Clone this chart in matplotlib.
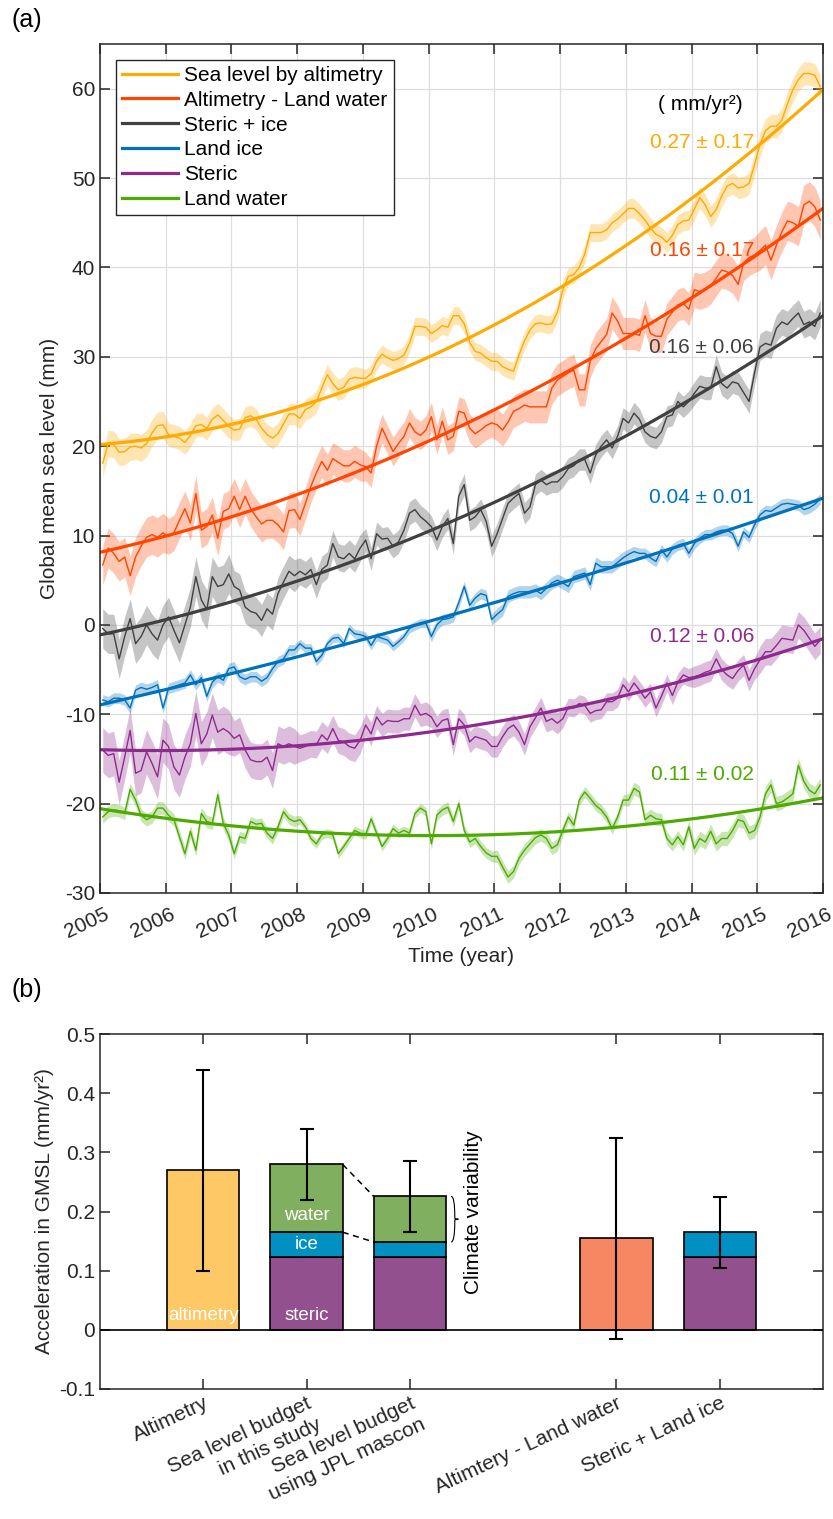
import numpy as np
import matplotlib
matplotlib.use('Agg')
import matplotlib.pyplot as plt
from matplotlib.path import Path
from matplotlib.patches import PathPatch
from matplotlib.transforms import ScaledTranslation

plt.rcParams['font.family'] = ['Liberation Sans', 'DejaVu Sans']
plt.rcParams['font.size'] = 15
plt.rcParams['axes.unicode_minus'] = False

# ---- panel (a): monthly GMSL components, mm (Jan 2005 .. Dec 2015) ----
years = 2005 + (np.arange(132) + 0.5) / 12

altimetry = [
    18.1, 20.3, 20.2, 19.3, 19.4, 19.9, 20.0, 19.8, 20.3, 21.5, 22.3, 22.4,
    21.3, 21.1, 20.9, 20.4, 21.2, 22.3, 22.4, 22.0, 23.0, 23.5, 22.9, 22.2,
    21.8, 21.9, 23.2, 23.4, 23.0, 22.0, 21.3, 20.9, 21.4, 22.5, 23.6, 23.6,
    23.1, 24.1, 24.4, 25.0, 26.5, 28.0, 27.0, 26.3, 26.6, 27.5, 27.7, 27.6,
    27.6, 28.1, 29.5, 30.3, 29.9, 29.6, 29.8, 30.2, 31.5, 33.4, 33.4, 33.3,
    32.6, 33.0, 33.5, 33.3, 34.6, 34.6, 33.7, 31.6, 30.6, 30.4, 29.9, 29.5,
    29.5, 28.9, 28.6, 28.4, 30.2, 31.8, 33.0, 33.7, 33.8, 33.6, 33.7, 35.0,
    37.5, 39.0, 39.2, 40.0, 41.5, 43.9, 43.9, 43.9, 44.2, 45.0, 45.4, 46.0,
    46.6, 46.6, 46.0, 45.3, 44.4, 43.7, 43.4, 42.8, 43.6, 44.8, 45.2, 45.3,
    46.5, 47.8, 47.0, 45.7, 46.5, 48.0, 49.1, 49.4, 48.9, 49.0, 49.4, 51.5,
    53.8, 55.3, 55.8, 55.8, 56.5, 58.3, 59.9, 61.0, 61.7, 61.7, 61.5, 60.2]

alt_minus_lw = [
    6.7, 8.6, 8.0, 7.1, 7.6, 5.5, 7.6, 8.8, 9.8, 10.1, 9.8, 10.3,
    9.9, 10.3, 11.7, 13.0, 11.4, 14.7, 10.6, 11.0, 12.3, 9.7, 12.7, 13.0,
    14.4, 12.9, 14.4, 13.0, 12.1, 11.3, 11.7, 11.7, 11.2, 10.4, 12.8, 12.9,
    11.8, 13.6, 15.5, 17.0, 18.3, 17.3, 18.6, 18.2, 17.8, 17.8, 18.3, 17.9,
    17.7, 17.0, 20.0, 22.0, 20.7, 19.4, 20.3, 21.1, 22.6, 21.6, 21.2, 21.8,
    23.3, 20.7, 22.8, 20.7, 21.1, 23.9, 23.7, 22.0, 21.4, 21.8, 22.3, 22.6,
    22.4, 21.8, 22.7, 23.9, 24.2, 24.6, 24.4, 24.4, 24.4, 24.4, 26.5, 27.4,
    27.8, 28.2, 28.5, 26.3, 26.3, 29.5, 30.9, 31.7, 32.5, 34.9, 34.0, 32.6,
    32.6, 32.6, 32.4, 34.6, 32.6, 32.3, 32.3, 34.2, 35.0, 35.8, 36.0, 35.3,
    37.5, 37.3, 37.5, 37.9, 38.8, 39.7, 39.5, 39.1, 38.1, 40.5, 41.1, 41.4,
    41.9, 42.5, 40.8, 42.5, 44.0, 45.2, 45.0, 44.6, 47.0, 47.4, 46.8, 45.3]

steric_ice = [
    -0.4, -1.0, -1.0, -3.8, -1.3, 0.7, -2.1, -1.3, 0.0, -1.0, -1.7, 0.0,
    0.9, -0.6, -2.0, 0.0, 2.0, 5.4, 2.8, 1.7, 5.4, 4.3, 4.5, 5.7,
    4.3, 3.9, 2.0, 1.5, 1.3, 0.5, 1.8, 1.2, 3.5, 4.8, 6.0, 5.5,
    6.0, 5.6, 6.2, 4.5, 6.2, 6.7, 9.1, 7.6, 7.4, 8.0, 7.4, 8.6,
    9.5, 7.4, 10.2, 9.6, 9.7, 8.8, 9.3, 10.6, 12.5, 12.9, 12.1, 11.6,
    11.0, 9.5, 11.0, 11.9, 9.1, 14.4, 15.7, 11.7, 12.1, 12.9, 11.6, 8.8,
    10.2, 11.9, 13.6, 14.2, 14.7, 12.5, 13.2, 15.7, 16.2, 15.7, 16.0, 16.0,
    16.6, 17.5, 17.8, 18.5, 18.5, 17.0, 19.0, 20.0, 20.7, 19.8, 21.1, 23.1,
    22.6, 23.7, 23.0, 21.6, 21.1, 20.9, 21.6, 23.3, 23.5, 25.0, 24.4, 25.0,
    25.9, 26.7, 26.5, 26.5, 28.9, 27.0, 26.5, 27.2, 27.0, 26.0, 25.0, 28.2,
    31.1, 31.5, 31.3, 33.2, 33.9, 33.6, 34.3, 34.9, 33.6, 33.9, 33.4, 34.9]

land_ice = [
    -8.4, -8.6, -8.2, -8.2, -8.4, -9.3, -7.3, -7.0, -7.2, -7.0, -6.7, -9.3,
    -7.1, -6.9, -6.7, -6.5, -5.6, -6.7, -5.9, -8.0, -6.4, -5.8, -6.2, -4.9,
    -4.7, -5.8, -6.1, -5.8, -5.8, -6.3, -5.9, -4.9, -4.1, -3.8, -2.8, -2.8,
    -2.1, -2.6, -2.6, -4.1, -3.4, -2.1, -1.5, -1.4, -2.1, -0.4, -1.0, -1.1,
    -1.3, -2.3, -1.3, -1.5, -1.7, -2.4, -1.9, -1.3, -0.4, -0.1, 0.2, 0.2,
    -1.3, 0.0, 0.6, 0.7, 0.9, 2.5, 4.3, 2.2, 3.0, 3.5, 3.3, 0.6,
    1.2, 1.7, 3.2, 3.5, 3.7, 3.7, 3.7, 3.9, 3.5, 4.1, 4.7, 5.0,
    4.7, 4.3, 5.4, 5.6, 5.8, 4.5, 6.9, 6.5, 6.5, 6.5, 7.0, 7.5,
    7.9, 8.2, 8.0, 8.0, 7.5, 7.1, 8.4, 7.6, 8.5, 8.9, 9.1, 8.0,
    9.1, 9.7, 10.1, 10.1, 10.4, 10.6, 10.6, 10.2, 8.8, 10.4, 9.8, 11.2,
    12.3, 12.8, 12.7, 13.1, 13.5, 13.6, 13.5, 13.4, 12.9, 13.1, 13.5, 14.1]

steric = [
    -14.0, -14.6, -14.4, -17.6, -14.8, -11.8, -16.6, -16.3, -14.2, -15.5, -17.0, -12.9,
    -13.6, -15.9, -16.8, -14.8, -13.3, -9.9, -13.3, -12.2, -10.1, -12.0, -11.6, -12.0,
    -12.7, -12.3, -14.0, -15.1, -15.3, -15.3, -14.8, -16.3, -13.3, -13.6, -13.3, -13.6,
    -13.8, -13.6, -13.3, -13.4, -12.3, -12.9, -11.6, -12.9, -13.1, -13.6, -13.8, -12.9,
    -11.2, -12.2, -10.3, -11.2, -10.7, -10.8, -10.8, -10.5, -10.5, -9.0, -10.1, -9.9,
    -10.3, -11.4, -10.7, -10.5, -13.4, -10.5, -11.2, -13.1, -12.5, -12.7, -12.9, -13.6,
    -13.6, -12.5, -11.6, -11.2, -12.0, -13.4, -11.4, -10.4, -9.3, -10.8, -10.5, -11.0,
    -10.5, -9.2, -9.3, -8.8, -9.0, -9.9, -9.6, -9.5, -8.6, -8.6, -8.2, -6.7,
    -7.5, -6.5, -7.3, -8.2, -7.5, -9.3, -8.0, -6.5, -7.9, -6.4, -5.6, -5.9,
    -5.8, -5.6, -5.3, -5.1, -3.8, -5.0, -5.6, -6.0, -5.1, -4.5, -6.2, -4.9,
    -3.9, -3.0, -3.0, -2.3, -1.5, -1.6, -1.7, 0.0, -0.6, -1.5, -2.4, -1.7]

land_water = [
    -21.5, -20.9, -20.7, -20.8, -21.1, -18.4, -19.6, -21.3, -21.8, -21.5, -20.5, -20.5,
    -21.3, -21.8, -23.7, -25.6, -23.1, -25.2, -21.1, -22.0, -22.2, -19.0, -22.2, -23.5,
    -25.6, -23.7, -23.9, -22.0, -22.3, -22.2, -23.3, -23.9, -22.6, -20.9, -21.7, -22.0,
    -21.8, -22.6, -23.9, -24.5, -23.5, -23.3, -23.5, -25.6, -24.8, -23.9, -23.0, -23.3,
    -23.5, -21.7, -23.3, -24.8, -23.9, -22.8, -23.3, -23.0, -23.3, -21.1, -20.5, -20.9,
    -24.5, -21.3, -20.7, -20.4, -22.0, -20.0, -23.0, -24.3, -23.9, -24.8, -25.5, -25.9,
    -25.9, -27.1, -28.2, -27.6, -26.1, -25.2, -24.5, -23.8, -23.5, -23.9, -25.0, -24.6,
    -23.0, -21.5, -22.4, -19.6, -18.7, -19.4, -20.2, -20.7, -21.5, -22.8, -21.5, -19.6,
    -19.6, -18.3, -18.7, -21.8, -21.3, -21.7, -21.8, -23.9, -24.6, -23.7, -24.6, -22.6,
    -25.0, -23.9, -24.3, -23.1, -24.5, -23.9, -23.9, -23.0, -21.8, -22.0, -23.3, -23.0,
    -21.5, -18.9, -17.9, -20.0, -19.8, -19.4, -18.9, -15.7, -17.5, -18.5, -18.9, -17.9]

# yearly half-width of the uncertainty band (2005..2015), mm
unc_altimetry = [1.5, 1.3, 1.2, 1.2, 1.0, 1.0, 1.0, 1.0, 1.1, 1.2, 1.3]
unc_alt_minus_lw = [2.2, 2.0, 2.0, 1.8, 1.6, 1.6, 1.8, 1.8, 1.8, 2.0, 2.2]
unc_steric_ice = [2.2, 2.2, 1.8, 1.5, 1.3, 1.2, 1.2, 1.2, 1.2, 1.3, 1.5]
unc_land_ice = [0.6, 0.6, 0.6, 0.5, 0.5, 0.6, 0.7, 0.7, 0.6, 0.6, 0.6]
unc_steric = [2.5, 2.5, 2.0, 1.5, 1.3, 1.2, 1.2, 1.0, 1.0, 1.2, 1.5]
unc_land_water = [0.7, 0.7, 0.6, 0.5, 0.5, 0.6, 0.7, 0.6, 0.7, 0.8, 0.8]

series_names = ['Sea level by altimetry', 'Altimetry - Land water', 'Steric + ice',
                'Land ice', 'Steric', 'Land water']
accel_text = ['0.27 \u00b1 0.17', '0.16 \u00b1 0.17', '0.16 \u00b1 0.06',
              '0.04 \u00b1 0.01', '0.12 \u00b1 0.06', '0.11 \u00b1 0.02']

# ---- panel (b): acceleration, mm/yr^2 ----
bar_labels = ['Altimetry', 'Sea level budget\nin this study', 'Sea level budget\nusing JPL mascon',
              'Altimtery - Land water', 'Steric + Land ice']
acc_altimetry = 0.27
acc_alt_minus_lw = 0.155
acc_steric = [0.123, 0.123, 0.123]      # budget, JPL budget, steric + land ice
acc_ice = [0.042, 0.0255, 0.042]
acc_water = [0.1145, 0.077]              # budget, JPL budget
acc_err = [0.17, 0.06, 0.06, 0.17, 0.06]

# ---------------------------------------------------------------
fig = plt.figure(figsize=(8.33, 15.19), dpi=100)
dark = '#262626'

ax = fig.add_axes([100 / 833, 1 - 893 / 1519, 723 / 833, 849 / 1519])
colors = ['#FFAA00', '#FF4500', '#404040', '#0072BD', '#8E2A8E', '#4DAA00']
data = [altimetry, alt_minus_lw, steric_ice, land_ice, steric, land_water]
uncs = [unc_altimetry, unc_alt_minus_lw, unc_steric_ice, unc_land_ice, unc_steric, unc_land_water]
label_y = [54.0, 41.9, 31.0, 14.3, -1.25, -16.7]

tt = np.linspace(2005, 2016, 200)
handles = []
for vals, unc, col, name, txt, ly in zip(data, uncs, colors, series_names, accel_text, label_y):
    v = np.array(vals)
    e = np.repeat(unc, 12)
    ax.fill_between(years, v - e, v + e, color=col, alpha=0.3, lw=0)
    ax.plot(years, v, color=col, lw=1.0)
    c = np.polyfit(years - 2010.5, v, 2)
    h, = ax.plot(tt, np.polyval(c, tt - 2010.5), color=col, lw=2.3, label=name)
    handles.append(h)
    ax.text(2014.95, ly, txt, color=col, ha='right', va='center', fontsize=15)

ax.text(2014.13, 58.2, '( mm/yr\u00b2)', color='k', ha='center', va='center', fontsize=15)

ax.set_xlim(2005, 2016)
ax.set_ylim(-30, 65)
ax.set_xticks(range(2005, 2017))
ax.set_yticks(range(-30, 61, 10))
ax.grid(True, color='#DEDEDE', lw=0.9)
ax.set_axisbelow(True)
ax.tick_params(direction='in', length=7, width=1.1, top=True, right=True, colors=dark,
               labelsize=15)
for s in ax.spines.values():
    s.set_color(dark)
    s.set_linewidth(1.1)
for lab in ax.get_xticklabels():
    lab.set_rotation(25)
    lab.set_ha('right')
    lab.set_rotation_mode('anchor')
    lab.set_transform(lab.get_transform() + ScaledTranslation(3 / 72, -5 / 72, fig.dpi_scale_trans))
ax.set_xlabel('Time (year)', color=dark, fontsize=15, labelpad=4)
ax.set_ylabel('Global mean sea level (mm)', color=dark, fontsize=15, labelpad=4)
leg = ax.legend(handles=handles, loc='upper left', fontsize=15, fancybox=False,
                framealpha=1, edgecolor=dark, handlelength=2.7, handletextpad=0.3,
                labelspacing=0.28, borderaxespad=0.75, borderpad=0.3)
leg.get_frame().set_linewidth(1.0)

fig.text(0.014, 0.987, '(a)', fontsize=18, va='center', ha='left')
fig.text(0.014, 0.348, '(b)', fontsize=18, va='center', ha='left')

# ---- panel (b) ----
bx = fig.add_axes([100 / 833, 1 - 1389 / 1519, 723 / 833, 355 / 1519])
pos = [1, 2, 3, 5, 6]
w = 0.7
c_alt, c_steric, c_ice, c_water, c_diff = '#FDC865', '#93508E', '#0091C2', '#7FAF5F', '#F78763'
ek = dict(edgecolor='k', linewidth=1.2)

bx.bar(pos[0], acc_altimetry, w, color=c_alt, **ek)
bx.bar(pos[3], acc_alt_minus_lw, w, color=c_diff, **ek)
stack_pos = [pos[1], pos[2], pos[4]]
st = np.array(acc_steric)
ic = np.array(acc_ice)
bx.bar(stack_pos, st, w, color=c_steric, **ek)
bx.bar(stack_pos, ic, w, bottom=st, color=c_ice, **ek)
bx.bar(stack_pos[:2], acc_water, w, bottom=(st + ic)[:2], color=c_water, **ek)

tops = [acc_altimetry, st[0] + ic[0] + acc_water[0], st[1] + ic[1] + acc_water[1],
        acc_alt_minus_lw, st[2] + ic[2]]
bx.errorbar(pos, tops, yerr=acc_err, fmt='none', ecolor='k', elinewidth=1.5,
            capsize=5, capthick=1.5, zorder=5)
bx.axhline(0, color='k', lw=1.2, zorder=4)

# connectors between the two budget bars
x0, x1 = pos[1] + w / 2, pos[2] - w / 2
bx.plot([x0, x1], [tops[1], tops[2]], 'k--', lw=1.1, dashes=(4, 3))
bx.plot([x0, x1], [st[0] + ic[0], st[1] + ic[1]], 'k--', lw=1.1, dashes=(4, 3))

# brace next to the JPL water part
yb0, yb1 = st[1] + ic[1], tops[2]
xb = pos[2] + w / 2 + 0.05
ym = (yb0 + yb1) / 2
dx = 0.035
verts = [(xb, yb1), (xb + dx, yb1), (xb + dx, ym + 0.004), (xb + dx, ym + 0.002),
         (xb + dx, ym), (xb + 2 * dx, ym), (xb + 2 * dx, ym),
         (xb + dx, ym), (xb + dx, ym - 0.002), (xb + dx, ym - 0.004),
         (xb + dx, yb0), (xb, yb0)]
codes = [Path.MOVETO, Path.CURVE3, Path.CURVE3, Path.LINETO,
         Path.CURVE3, Path.CURVE3, Path.MOVETO,
         Path.CURVE3, Path.CURVE3, Path.LINETO, Path.CURVE3, Path.CURVE3]
bx.add_patch(PathPatch(Path(verts, codes), fill=False, lw=0.8, edgecolor='k'))
bx.text(pos[2] + 0.62, 0.199, 'Climate variability', rotation=90, ha='center', va='center',
        fontsize=15)

bx.text(pos[0], 0.025, 'altimetry', color='white', ha='center', va='center', fontsize=13.5)
bx.text(pos[1], 0.025, 'steric', color='white', ha='center', va='center', fontsize=13.5)
bx.text(pos[1], st[0] + ic[0] / 2, 'ice', color='white', ha='center', va='center', fontsize=13.5)
bx.text(pos[1], 0.194, 'water', color='white', ha='center', va='center', fontsize=13.5)

bx.set_xlim(0, 7)
bx.set_ylim(-0.1, 0.5)
bx.set_yticks(np.arange(-0.1, 0.51, 0.1))
bx.set_yticklabels(['-0.1', '0', '0.1', '0.2', '0.3', '0.4', '0.5'])
bx.set_xticks(pos)
bx.set_xticklabels(bar_labels, rotation=25, ha='right', rotation_mode='anchor',
                   multialignment='right', linespacing=1.3)
for lab in bx.get_xticklabels():
    lab.set_transform(lab.get_transform() + ScaledTranslation(4 / 72, -7 / 72, fig.dpi_scale_trans))
bx.tick_params(direction='in', length=7, width=1.1, top=True, right=True, colors=dark,
               labelsize=15)
for s in bx.spines.values():
    s.set_color(dark)
    s.set_linewidth(1.1)
bx.set_ylabel('Acceleration in GMSL (mm/yr\u00b2)', color=dark, fontsize=15, labelpad=4)

fig.savefig('out.png', dpi=100)
